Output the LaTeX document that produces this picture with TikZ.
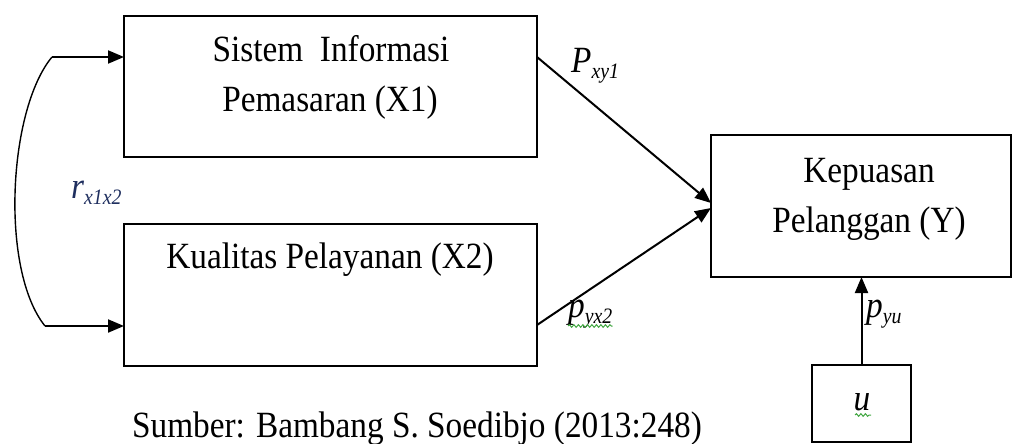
\documentclass[tikz,border=0pt]{standalone}
\usepackage{fontspec}
\setmainfont{Liberation Serif}[FakeStretch=0.9]
\usetikzlibrary{arrows.meta,decorations.pathmorphing}

\definecolor{inkblue}{HTML}{1F2F5F}
\definecolor{spellgreen}{HTML}{3FA63F}

% subscript set in a smaller size, lowered below the baseline
\newcommand{\subtxt}[1]{\raisebox{-6pt}{\fontsize{22}{22}\selectfont #1}}

\tikzset{
  box/.style={draw, line width=2.2pt, inner sep=0pt, outer sep=0pt},
  txt/.style={anchor=base, inner sep=0pt, font=\fontsize{37}{42}\selectfont},
  itl/.style={anchor=base west, inner sep=0pt, font=\fontsize{37}{42}\selectfont\itshape},
  link/.style={line width=2pt, -{Triangle[length=16pt,width=13pt]}},
  wavy/.style={spellgreen, line width=1pt, decorate,
    decoration={snake, amplitude=1.3pt, segment length=4.5pt}}
}

\begin{document}
\begin{tikzpicture}[x=1pt, y=-1pt]
  \useasboundingbox (0,0) rectangle (1013,444);

  % boxes
  \node[box, minimum width=413pt, minimum height=141pt] (x1) at (330.5,86.5) {};
  \node[box, minimum width=413pt, minimum height=142pt] (x2) at (330.5,295) {};
  \node[box, minimum width=300pt, minimum height=142pt] (y)  at (861,206) {};
  \node[box, minimum width=99pt,  minimum height=77pt]  (u)  at (861.5,403.5) {};

  % box texts
  \node[txt] (x1a) at (331,62)  {Sistem\ \ Informasi};
  \node[txt] (x1b) at (330,112) {Pemasaran (X1)};
  \node[txt] (x2a) at (330,268) {Kualitas Pelayanan (X2)};
  \node[txt] (ya)  at (869,182) {Kepuasan};
  \node[txt] (yb)  at (869,232) {Pelanggan (Y)};
  \node[itl, anchor=base] (ut) at (862,410) {u};

  % path coefficients
  \node[itl] (pxy1) at (571,73)  {P\subtxt{xy1}};
  \node[itl] (pyx2) at (568,317) {p\subtxt{yx2}};
  \node[itl] (pyu)  at (866,317) {p\subtxt{yu}};
  \node[itl, text=inkblue] (rxx) at (71,198) {r\subtxt{x1x2}};

  % spelling marks under labels
  \draw[wavy] ([yshift=-9pt]pyx2.base west) -- ([yshift=-9pt]pyx2.base east);
  \draw[wavy] ([xshift=-7pt,yshift=-5pt]ut.base) -- ([xshift=9pt,yshift=-5pt]ut.base);

  % correlation between X1 and X2
  \coordinate (c1) at (52,57);
  \coordinate (c2) at (45,326);
  \draw[line width=1.4pt] (c2) .. controls (0,270) and (8,110) .. (c1);
  \draw[link] (c1) -- (x1.west |- c1);
  \draw[link] (c2) -- (x2.west |- c2);

  % direct effects on Y
  \draw[link] ([yshift=29.5pt]x1.east) -- ([yshift=3pt]y.west);
  \draw[link] ([yshift=-30pt]x2.east) -- ([yshift=-2pt]y.west);
  \draw[link] (u.north) -- (y.south -| u.north);

  % source line
  \node[txt] (src) at (417,437) {Sumber: Bambang S. Soedibjo (2013:248)};
\end{tikzpicture}
\end{document}
